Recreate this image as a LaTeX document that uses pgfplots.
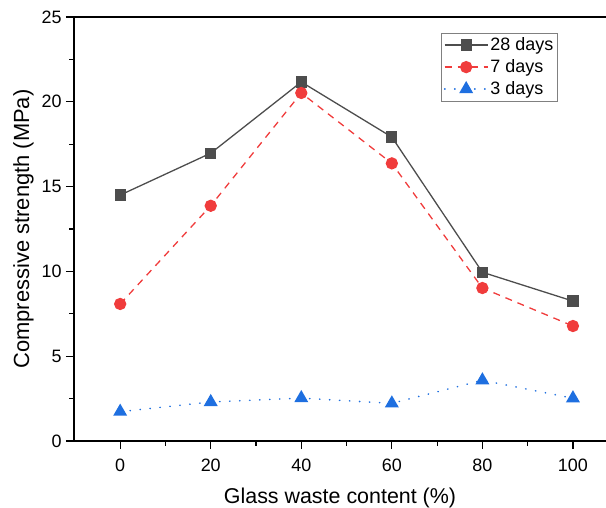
\documentclass[border=0pt]{standalone}
\usepackage{fontspec}
\setmainfont{Liberation Sans}
\usepackage{pgfplots}
\pgfplotsset{compat=1.18}
\definecolor{c28}{HTML}{4D4D4D}
\definecolor{c7}{HTML}{F03C3C}
\definecolor{c3}{HTML}{1E6FE0}
\begin{document}
\begin{tikzpicture}
\begin{axis}[
  scale only axis,
  width=532bp, height=424bp,
  xmin=-10.2, xmax=107.3,
  ymin=0, ymax=25,
  axis lines=left,
  axis line style={-, line width=1.2pt, black},
  tick align=outside,
  tick style={black, line width=1.2pt},
  major tick length=8bp,
  minor tick length=4.5bp,
  xtick={0,20,40,60,80,100},
  ytick={0,5,10,15,20,25},
  minor tick num=1,
  /pgf/number format/assume math mode=true,
  tick label style={font=\fontsize{18}{21}\selectfont},
  xticklabel style={yshift=-6bp},
  yticklabel style={xshift=-1bp},
  xlabel={Glass waste content (\%)},
  ylabel={Compressive strength (MPa)},
  xlabel style={font=\fontsize{21.5}{24}\selectfont, yshift=-10bp},
  ylabel style={font=\fontsize{22}{25}\selectfont, yshift=1bp},
  legend cell align=left,
  legend style={at={(0.69,0.962)}, anchor=north west, draw=gray, line width=0.6pt,
    font=\fontsize{18}{21}\selectfont, row sep=3.5bp, inner xsep=2.5bp, inner ysep=2.5bp},
  legend image code/.code={\draw[mark repeat=2,mark phase=2] plot coordinates {(0bp,0bp) (21.5bp,0bp) (43bp,0bp)};},
]
\addplot[c28, line width=1.3pt, mark=square*, mark size=5bp, mark options={solid, fill=c28, draw=c28}]
  coordinates {(0,14.5) (20,16.97) (40,21.17) (60,17.92) (80,9.95) (100,8.25)};
\addlegendentry{28 days}
\addplot[c7, line width=1.3pt, dash pattern=on 7bp off 6bp, mark=*, mark size=5.5bp, mark options={solid, fill=c7, draw=c7}]
  coordinates {(0,8.08) (20,13.87) (40,20.52) (60,16.37) (80,9.02) (100,6.78)};
\addlegendentry{7 days}
\addplot[c3, line width=1.6pt, line cap=round, dash pattern=on 0.3bp off 9.7bp, mark=triangle*, mark size=6.5bp, mark options={solid, fill=c3, draw=c3}]
  coordinates {(0,1.73) (20,2.3) (40,2.53) (60,2.22) (80,3.58) (100,2.52)};
\addlegendentry{3 days}
\draw[line width=1.2pt] (rel axis cs:0,1) -- (rel axis cs:1,1);
\coordinate (bl) at (rel axis cs:0,0);
\coordinate (tr) at (rel axis cs:1,1);
\end{axis}
\pgfresetboundingbox
\useasboundingbox ([xshift=-74bp,yshift=-67bp]bl) rectangle ([yshift=17bp]tr);
\end{tikzpicture}
\end{document}
